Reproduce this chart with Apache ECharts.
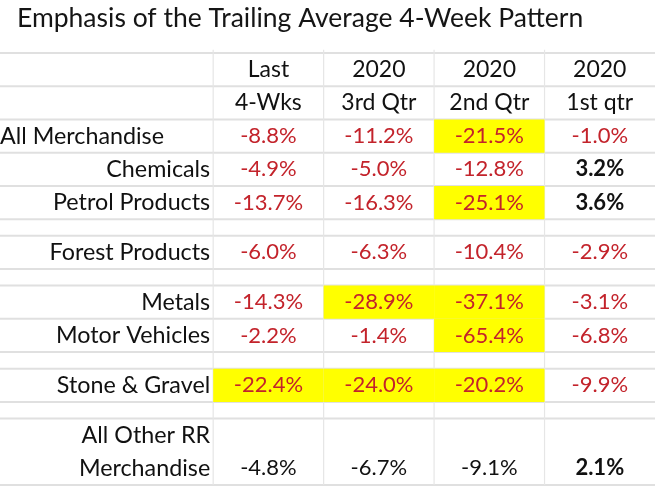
<!DOCTYPE html>
<html>
<head>
<meta charset="utf-8">
<script src="https://cdn.jsdelivr.net/npm/echarts/dist/echarts.min.js"></script>
<style>
  html, body { margin: 0; padding: 0; background: #fff; }
  #main { width: 670px; height: 496px; }
</style>
</head>
<body>
<div id="main"></div>
<script>
var titleText = 'Emphasis of the Trailing Average 4-Week Pattern';
var headTop = ['Last', '2020', '2020', '2020'];
var headBottom = ['4-Wks', '3rd Qtr', '2nd Qtr', '1st qtr'];
var categories = ['All Merchandise', 'Chemicals', 'Petrol Products', 'Forest Products',
    'Metals', 'Motor Vehicles', 'Stone & Gravel', 'All Other RR\nMerchandise'];
var last4Wks = [-8.8, -4.9, -13.7, -6.0, -14.3, -2.2, -22.4, -4.8];
var qtr3 = [-11.2, -5.0, -16.3, -6.3, -28.9, -1.4, -24.0, -6.7];
var qtr2 = [-21.5, -12.8, -25.1, -10.4, -37.1, -65.4, -20.2, -9.1];
var qtr1 = [-1.0, 3.2, 3.6, -2.9, -3.1, -6.8, -9.9, 2.1];
// [row, column] pairs shaded yellow
var highlighted = [[0, 2], [2, 2], [4, 1], [4, 2], [5, 2], [6, 0], [6, 1], [6, 2]];

// table layout in row units (a blank spacer row is one unit)
var rowUnits = [2, 2, 2, 2, 2, 2, 2, 4];
var gapAfter = [0, 0, 1, 1, 0, 1, 1, 0];
var blackRows = [7];       // values printed in black
var leftLabelRows = [0];   // label hugs the left edge
var headUnits = 4;

var columns = [last4Wks, qtr3, qtr2, qtr1];
var RED = '#c3232b';
var FONT = 'Lato';

var cells = [];
var cellData = [];
var lineData = [];

function addCell(x0, y0, x1, y1, opts) {
    cells.push(opts);
    cellData.push([x0, y0, x1, y1]);
}

// header
for (var c = 0; c < 4; c++) {
    addCell(c + 2, 0, c + 3, 2, { text: headTop[c], align: 'center', color: '#111', size: 23 });
    addCell(c + 2, 2, c + 3, 4, { text: headBottom[c], align: 'center', color: '#111', size: 23 });
}
lineData.push([0, 0, 6, 0], [0, 2, 6, 2], [0, 4, 6, 4]);

var y = headUnits;
for (var r = 0; r < categories.length; r++) {
    var y0 = y, y1 = y + rowUnits[r];
    addCell(0, y0, 2, y1, {
        text: categories[r],
        align: leftLabelRows.indexOf(r) >= 0 ? 'left' : 'right',
        color: '#111',
        size: 23.3
    });
    for (var c = 0; c < 4; c++) {
        var v = columns[c][r];
        var hl = highlighted.some(function (h) { return h[0] === r && h[1] === c; });
        var black = blackRows.indexOf(r) >= 0 || v > 0;
        // tall last row: figures sit on its lower line
        addCell(c + 2, y1 - 2, c + 3, y1, {
            text: v.toFixed(1) + '%',
            align: 'center',
            color: black ? '#111' : RED,
            bold: v > 0,
            fill: hl ? '#ffff00' : null,
            size: 22
        });
    }
    y = y1;
    lineData.push([0, y, 6, y]);
    if (gapAfter[r]) {
        y += gapAfter[r];
        lineData.push([0, y, 6, y]);
    }
}
var totalUnits = y;
for (var c = 2; c <= 5; c++) {
    lineData.push([c, -0.2, c, totalUnits]);
}

function renderLine(params, api) {
    var a = api.coord([api.value(0), api.value(1)]);
    var b = api.coord([api.value(2), api.value(3)]);
    var vertical = a[0] === b[0];
    return {
        type: 'line',
        shape: { x1: Math.max(a[0], 0), y1: a[1], x2: b[0], y2: b[1] },
        style: { stroke: vertical ? '#e6e6e6' : '#e0e0e0', lineWidth: vertical ? 1.2 : 2 }
    };
}

function renderCell(params, api) {
    var cell = cells[params.dataIndex];
    var p0 = api.coord([api.value(0), api.value(1)]);
    var p1 = api.coord([api.value(2), api.value(3)]);
    var children = [];
    if (cell.fill) {
        children.push({
            type: 'rect',
            shape: { x: p0[0], y: p0[1], width: p1[0] - p0[0], height: p1[1] - p0[1] },
            style: { fill: cell.fill }
        });
    }
    var tx = cell.align === 'center' ? (p0[0] + p1[0]) / 2
        : cell.align === 'right' ? p1[0] - 3 : 0;
    children.push({
        type: 'text',
        x: tx,
        y: (p0[1] + p1[1]) / 2,
        style: {
            text: cell.text,
            fill: cell.color,
            fontFamily: FONT,
            fontSize: cell.size,
            fontWeight: cell.bold ? 'bold' : 'normal',
            align: cell.align,
            verticalAlign: 'middle',
            lineHeight: 33
        }
    });
    return { type: 'group', children: children };
}

var chart = echarts.init(document.getElementById('main'));
chart.setOption({
    animation: false,
    backgroundColor: '#fff',
    title: {
        text: titleText,
        left: 12,
        top: 0,
        textStyle: { fontFamily: FONT, fontSize: 26.5, fontWeight: 'normal', color: '#151515' }
    },
    grid: { left: 0, right: 15, top: 53, bottom: 11 },
    xAxis: { type: 'value', min: 0.07, max: 6, show: false },
    yAxis: { type: 'value', min: 0, max: totalUnits, inverse: true, show: false },
    series: [
        {
            type: 'custom',
            renderItem: renderLine,
            encode: { x: [0, 2], y: [1, 3] },
            data: lineData,
            clip: false,
            silent: true,
            z: 1
        },
        {
            type: 'custom',
            renderItem: renderCell,
            encode: { x: [0, 2], y: [1, 3] },
            data: cellData,
            clip: false,
            silent: true,
            z: 2
        }
    ]
});
</script>
</body>
</html>
